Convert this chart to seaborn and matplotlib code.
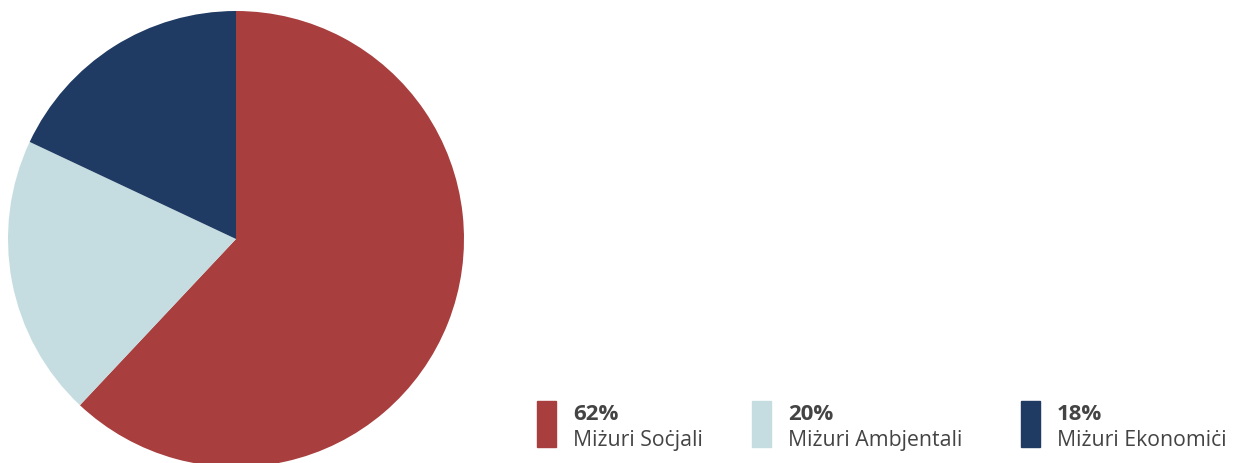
import matplotlib.pyplot as plt
import seaborn as sns
from matplotlib.patches import Rectangle

# data
categories = ['Miżuri Soċjali', 'Miżuri Ambjentali', 'Miżuri Ekonomiċi']
shares = [62, 20, 18]
colors = ['#A83E3E', '#C5DDE0', '#1F3A63']

sns.set_theme(style='white')
plt.rcParams['font.family'] = ['Open Sans', 'DejaVu Sans']

W, H = 1233, 463
fig = plt.figure(figsize=(W / 100, H / 100), dpi=100)

# pie axes: centre ~(236, 239) px, radius ~228 px
cx, cy, r = 236, 239, 228
ax = fig.add_axes([(cx - r) / W, (H - cy - r) / H, 2 * r / W, 2 * r / H])
ax.pie(shares, colors=colors, startangle=90, counterclock=False,
       radius=1, wedgeprops={'linewidth': 0})
ax.set_xlim(-1, 1)
ax.set_ylim(-1, 1)
ax.set_aspect('equal')
ax.axis('off')

# legend drawn by hand
box_x = [537, 752, 1021]
for x, cat, val, col in zip(box_x, categories, shares, colors):
    fig.patches.append(Rectangle((x / W, 1 - 447 / H), 19 / W, 46 / H,
                                 transform=fig.transFigure, color=col))
    fig.text((x + 36) / W, 1 - 420 / H, f'{val}%', fontsize=16,
             fontweight='bold', color='#444444', va='baseline')
    fig.text((x + 36) / W, 1 - 446 / H, cat, fontsize=15.3,
             color='#444444', va='baseline')

fig.savefig('out.png', dpi=100)
